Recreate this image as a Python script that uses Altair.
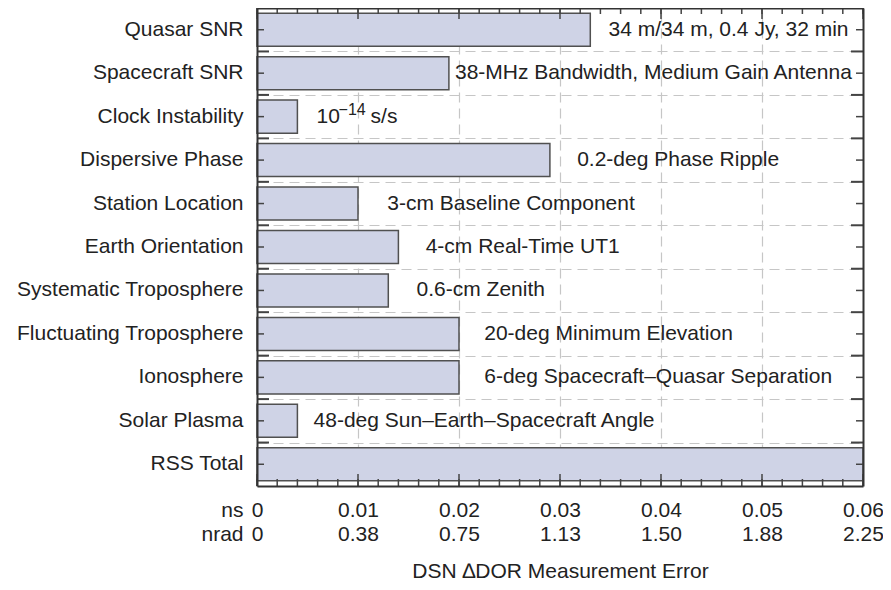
import json
import altair as alt
import pandas as pd

# ---------------- data ----------------
categories = [
    "Quasar SNR", "Spacecraft SNR", "Clock Instability", "Dispersive Phase",
    "Station Location", "Earth Orientation", "Systematic Troposphere",
    "Fluctuating Troposphere", "Ionosphere", "Solar Plasma", "RSS Total",
]
errors_ns = [0.033, 0.019, 0.004, 0.029, 0.010, 0.014, 0.013, 0.020, 0.020, 0.004, 0.060]
notes = [
    "34 m/34 m, 0.4 Jy, 32 min",
    "38-MHz Bandwidth, Medium Gain Antenna",
    "10",
    "0.2-deg Phase Ripple",
    "3-cm Baseline Component",
    "4-cm Real-Time UT1",
    "0.6-cm Zenith",
    "20-deg Minimum Elevation",
    "6-deg Spacecraft\u2013Quasar Separation",
    "48-deg Sun\u2013Earth\u2013Spacecraft Angle",
    "",
]
# where each note starts, in ns
note_at_ns = [0.0348, 0.0196, 0.0059, 0.0317, 0.0129, 0.0167, 0.0158, 0.0225, 0.0225, 0.0056, 0.0]
clock_row = "Clock Instability"
clock_exponent = "\u221214"
clock_unit = "s/s"

ns_ticks = [0, 0.01, 0.02, 0.03, 0.04, 0.05, 0.06]
ns_labels = ["0", "0.01", "0.02", "0.03", "0.04", "0.05", "0.06"]
nrad_labels = ["0", "0.38", "0.75", "1.13", "1.50", "1.88", "2.25"]
minor_ticks = [round(i * 0.002, 3) for i in range(31)]

df = pd.DataFrame({
    "factor": categories,
    "error": errors_ns,
    "note": notes,
    "note_at": note_at_ns,
    "note_exp": [clock_exponent if c == clock_row else "" for c in categories],
    "note_unit": [clock_unit if c == clock_row else "" for c in categories],
})
minor_df = pd.DataFrame({"tick": minor_ticks})
major_df = pd.DataFrame({"tick": ns_ticks})
bound_df = pd.DataFrame({"factor": categories[1:]})

# ---------------- style ----------------
W, H = 606, 478
FONT = "Liberation Sans"
FS = 21
INK = "#222222"
BAR = "#cfd3e6"
BAR_EDGE = "#505050"
GRID = "#c6c6c6"
TICK = "#444444"
FRAME = "#333333"

label_expr = "[{ns}[round(datum.value*100)], {nr}[round(datum.value*100)]]".format(
    ns=json.dumps(ns_labels), nr=json.dumps(nrad_labels))

xsc = alt.Scale(domain=[0, 0.06], nice=False, zero=True)
ysc = alt.Scale(domain=categories, paddingInner=0, paddingOuter=0)


def yenc(axis, **kw):
    return alt.Y("factor:N", sort=categories, scale=ysc, axis=axis, **kw)


def xtick(axis=None):
    return alt.X("tick:Q", scale=xsc, axis=axis)


x_main = alt.Axis(
    orient="bottom", values=ns_ticks, labelExpr=label_expr,
    labelFont=FONT, labelFontSize=FS, labelColor=INK, labelLineHeight=24,
    labelPadding=13, labelBaseline="top", labelFlush=False, labelOverlap=False,
    ticks=False, tickSize=0, domain=False,
    grid=True, gridColor=GRID, gridDash=[10, 6], gridWidth=1.2,
    gridOpacity={"condition": {"test": "datum.value <= 0 || datum.value >= 0.06", "value": 0}, "value": 1},
    title=["ns", "nrad"], titleX=-14, titleY=13, titleAlign="right", titleAngle=0,
    titleBaseline="top", titleFont=FONT, titleFontSize=FS, titleFontWeight="normal",
    titleColor=INK, titleLineHeight=24, zindex=0,
)
# frame edges (axis domains) drawn above the marks
x_bottom_edge = alt.Axis(
    orient="top", offset=-H, values=ns_ticks, labels=False, ticks=False,
    domain=True, domainColor=FRAME, domainWidth=2, grid=False, zindex=2,
    title="DSN \u2206DOR Measurement Error", titleX=W / 2, titleY=85, titleAlign="center",
    titleBaseline="middle", titleAngle=0, titleFont=FONT, titleFontSize=FS,
    titleFontWeight="normal", titleColor=INK,
)
x_top_edge = alt.Axis(
    orient="bottom", offset=-H, values=ns_ticks, labels=False, title=None, ticks=False,
    domain=True, domainColor=FRAME, domainWidth=2, grid=False, zindex=2,
)
y_labels = alt.Axis(
    orient="left", labelFont=FONT, labelFontSize=FS, labelColor=INK,
    labelPadding=14, labelLimit=400, ticks=False, tickSize=0, domain=False,
    grid=False, title=None, zindex=1,
)
y_left_edge = alt.Axis(
    orient="right", offset=-W, labels=False, title=None, ticks=False,
    domain=True, domainColor=FRAME, domainWidth=2, grid=False, zindex=2,
)
y_right_edge = alt.Axis(
    orient="left", offset=-W, labels=False, title=None, ticks=False,
    domain=True, domainColor=FRAME, domainWidth=2, grid=False, zindex=2,
)
y_grid = alt.Axis(
    orient="left", tickBand="extent", labels=False, title=None, ticks=False,
    domain=False, grid=True, gridColor=GRID, gridDash=[10, 6], gridWidth=1.2, zindex=0,
)

base = alt.Chart(df)

bars = base.mark_bar(
    height=alt.RelativeBandSize(0.76), fill=BAR, stroke=BAR_EDGE, strokeWidth=1.5
).encode(x=alt.X("error:Q", scale=xsc, axis=x_main), y=yenc(y_labels))

note_text = base.mark_text(
    align="left", baseline="middle", font=FONT, fontSize=FS, color=INK
).encode(x=alt.X("note_at:Q", scale=xsc, axis=x_bottom_edge), y=yenc(y_left_edge), text="note:N")

exp_text = base.mark_text(
    align="left", baseline="middle", font=FONT, fontSize=16, color=INK, dx=22, dy=-7
).encode(x=alt.X("note_at:Q", scale=xsc, axis=x_top_edge), y=yenc(y_right_edge), text="note_exp:N")

unit_text = base.mark_text(
    align="left", baseline="middle", font=FONT, fontSize=FS, color=INK, dx=54
).encode(x=alt.X("note_at:Q", scale=xsc, axis=None), y=yenc(y_grid), text="note_unit:N")

# inward tick marks along the frame
tick_style = dict(color=TICK, strokeWidth=1.5)
top_minor = alt.Chart(minor_df).mark_rule(**tick_style).encode(
    x=xtick(), y=alt.value(0), y2=alt.value(6))
top_major = alt.Chart(major_df).mark_rule(**tick_style).encode(
    x=xtick(), y=alt.value(0), y2=alt.value(11))
bot_minor = alt.Chart(minor_df).mark_rule(**tick_style).encode(
    x=xtick(), y=alt.value(H), y2=alt.value(H - 7))
bot_major = alt.Chart(major_df).mark_rule(**tick_style).encode(
    x=xtick(), y=alt.value(H), y2=alt.value(H - 12))
left_center = base.mark_rule(**tick_style).encode(
    y=yenc(None), x=alt.value(0), x2=alt.value(7))
right_center = base.mark_rule(**tick_style).encode(
    y=yenc(None), x=alt.value(W), x2=alt.value(W - 7))
left_bound = alt.Chart(bound_df).mark_rule(color=TICK, strokeWidth=2).encode(
    y=yenc(None, bandPosition=0), x=alt.value(0), x2=alt.value(12))
right_bound = alt.Chart(bound_df).mark_rule(color=TICK, strokeWidth=2).encode(
    y=yenc(None, bandPosition=0), x=alt.value(W), x2=alt.value(W - 12))

chart = alt.layer(
    bars, note_text, exp_text, unit_text,
    top_minor, top_major, bot_minor, bot_major,
    left_center, right_center, left_bound, right_bound,
).resolve_axis(
    x="independent", y="independent"
).properties(
    width=W, height=H,
    padding={"left": 249, "top": 0, "right": 20, "bottom": 96},
    autosize=alt.AutoSizeParams(type="none"),
    background="white",
).configure_view(stroke=None)

chart.save("out.html", embed_options={"renderer": "svg", "actions": False})
